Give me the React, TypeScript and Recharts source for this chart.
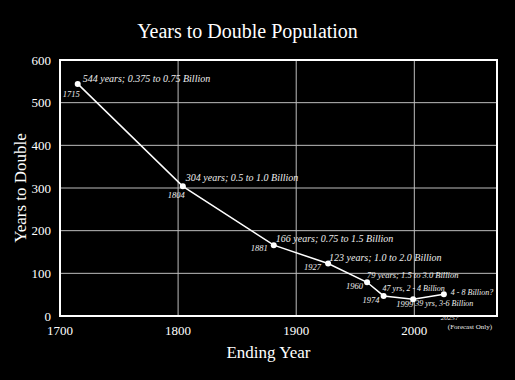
import {
  CartesianGrid,
  Line,
  LineChart,
  ReferenceArea,
  XAxis,
  YAxis,
} from "recharts";

const endYears = [1715, 1804, 1881, 1927, 1960, 1974, 1999, 2025];
const yearsToDouble = [544, 304, 166, 123, 79, 47, 39, 51];
const yearLabels = ["1715", "1804", "1881", "1927", "1960", "1974", "1999", "2025?"];
const notes = [
  "544 years; 0.375 to 0.75 Billion",
  "304 years; 0.5 to 1.0 Billion",
  "166 years; 0.75 to 1.5 Billion",
  "123 years; 1.0 to 2.0 Billion",
  "79 years; 1.5 to 3.0 Billion",
  "47 yrs, 2 - 4 Billion",
  "39 yrs, 3-6 Billion",
  "4 - 8 Billion?",
];
const xTicks = [1700, 1800, 1900, 2000];
const yTicks = [0, 100, 200, 300, 400, 500, 600];

const data = endYears.map((year, i) => ({
  year,
  value: yearsToDouble[i],
  yearLabel: yearLabels[i],
  note: notes[i],
}));

const FONT = "'Liberation Serif', 'Times New Roman', serif";

// label placement around each point: note offset/size, year offset/size
const place = [
  { nx: 5, ny: -2, ns: 10, yx: 2, yy: 13, ys: 8.5, ya: "end" },
  { nx: 3, ny: -5, ns: 10, yx: 2, yy: 12, ys: 8.5, ya: "end" },
  { nx: 2, ny: -3, ns: 10, yx: -6, yy: 6, ys: 8.5, ya: "end" },
  { nx: 1, ny: -3, ns: 10, yx: -7, yy: 6, ys: 8.5, ya: "end" },
  { nx: 0, ny: -4, ns: 8.5, yx: -4, yy: 7, ys: 8.5, ya: "end" },
  { nx: -1, ny: -5, ns: 8, yx: -4, yy: 7, ys: 8.5, ya: "end" },
  { nx: 2, ny: 7, ns: 8, yx: 0, yy: 8, ys: 8.5, ya: "end" },
  { nx: 7, ny: 1, ns: 8, yx: -3, yy: 26, ys: 7, ya: "start" },
];

function PointMark(props: any) {
  const { cx, cy, index, payload } = props;
  const p = place[index];
  return (
    <g key={`pt-${index}`} fontFamily={FONT} fontStyle="italic" fill="#eeeeee">
      <circle cx={cx} cy={cy} r={3} fill="#ffffff" stroke="none" />
      <text x={cx + p.nx} y={cy + p.ny} fontSize={p.ns}>
        {payload.note}
      </text>
      <text x={cx + p.yx} y={cy + p.yy} fontSize={p.ys} textAnchor={p.ya}>
        {payload.yearLabel}
      </text>
      {index === endYears.length - 1 && (
        <text x={cx + 4} y={cy + 35} fontSize={7} fontStyle="normal">
          (Forecast Only)
        </text>
      )}
    </g>
  );
}

export default function App() {
  return (
    <div
      style={{
        position: "absolute",
        left: 0,
        top: 0,
        width: 515,
        height: 380,
        background: "#000",
        fontFamily: FONT,
      }}
    >
      <div
        style={{
          position: "absolute",
          left: 0,
          top: 18,
          width: 495,
          textAlign: "center",
          color: "#fff",
          fontSize: 20,
          lineHeight: "26px",
        }}
      >
        Years to Double Population
      </div>
      <LineChart
        width={515}
        height={380}
        data={data}
        margin={{ top: 60, right: 18, left: 8, bottom: 0 }}
      >
        <CartesianGrid stroke="#bdbdbd" strokeWidth={1} />
        <XAxis
          dataKey="year"
          type="number"
          domain={[1700, 2070]}
          ticks={xTicks}
          height={64}
          tickSize={0}
          tickMargin={10}
          axisLine={false}
          tick={{ fill: "#ffffff", fontSize: 13, fontFamily: FONT }}
          label={({ viewBox }: any) => (
            <text
              x={viewBox.x + viewBox.width / 2 - 10}
              y={viewBox.y + 42}
              textAnchor="middle"
              fill="#ffffff"
              fontSize={17}
              fontFamily={FONT}
            >
              Ending Year
            </text>
          )}
        />
        <YAxis
          type="number"
          domain={[0, 600]}
          ticks={yTicks}
          width={52}
          tickSize={0}
          tickMargin={9}
          axisLine={false}
          tick={{ fill: "#ffffff", fontSize: 13, fontFamily: FONT }}
          label={({ viewBox }: any) => (
            <text
              x={viewBox.x + 12}
              y={viewBox.y + viewBox.height / 2}
              transform={`rotate(-90, ${viewBox.x + 12}, ${viewBox.y + viewBox.height / 2})`}
              textAnchor="middle"
              dominantBaseline="central"
              fill="#ffffff"
              fontSize={17}
              fontFamily={FONT}
            >
              Years to Double
            </text>
          )}
        />
        <ReferenceArea
          x1={1700}
          x2={2070}
          y1={0}
          y2={600}
          fill="none"
          stroke="#ffffff"
          strokeWidth={2}
          fillOpacity={0}
        />
        <Line
          dataKey="value"
          stroke="#ffffff"
          strokeWidth={1.5}
          dot={PointMark}
          activeDot={false}
          isAnimationActive={false}
        />
      </LineChart>
    </div>
  );
}
